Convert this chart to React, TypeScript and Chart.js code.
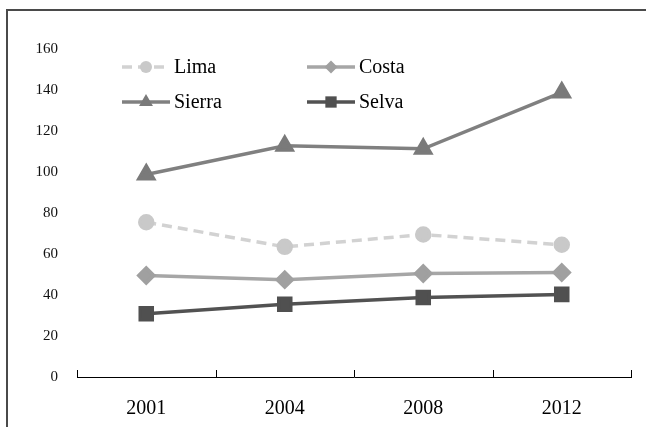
import React, { useEffect, useRef } from "react";
import { Chart, registerables } from "chart.js";

Chart.register(...registerables);

const categories = ["2001", "2004", "2008", "2012"];
const limaValues = [75.5, 63.5, 69.5, 64.5];
const costaValues = [49.5, 47.5, 50.5, 51];
const sierraValues = [98.8, 112.8, 111.3, 138.8];
const selvaValues = [30.8, 35.5, 38.8, 40.3];
const yTicks = [0, 20, 40, 60, 80, 100, 120, 140, 160];

const FONT = "'Liberation Serif', 'Times New Roman', serif";

function drawMarker(ctx: CanvasRenderingContext2D, style: string, cx: number, cy: number, r: number) {
  ctx.beginPath();
  if (style === "circle") {
    ctx.arc(cx, cy, r, 0, Math.PI * 2);
  } else if (style === "rectRot") {
    ctx.moveTo(cx, cy - r);
    ctx.lineTo(cx + r, cy);
    ctx.lineTo(cx, cy + r);
    ctx.lineTo(cx - r, cy);
    ctx.closePath();
  } else if (style === "triangle") {
    const w = (r * Math.sqrt(3)) / 2;
    ctx.moveTo(cx, cy - r);
    ctx.lineTo(cx + w, cy + r / 2);
    ctx.lineTo(cx - w, cy + r / 2);
    ctx.closePath();
  } else {
    const s = r * Math.SQRT1_2;
    ctx.rect(cx - s, cy - s, s * 2, s * 2);
  }
  ctx.fill();
}

const legendPlugin = {
  id: "gridLegend",
  afterDraw(chart: any) {
    const ctx = chart.ctx;
    const x = chart.scales.x;
    const y = chart.scales.y;
    ctx.save();
    ctx.strokeStyle = "#000";
    ctx.lineWidth = 1;
    const n = categories.length;
    for (let i = 0; i <= n; i++) {
      const px = Math.round(x.left + (i * (x.right - x.left)) / n) + 0.5;
      ctx.beginPath();
      ctx.moveTo(px, y.bottom);
      ctx.lineTo(px, y.bottom - 7);
      ctx.stroke();
    }
    ctx.restore();

    const positions = [
      [122, 67],
      [307, 67],
      [122, 102],
      [307, 102],
    ];
    const legendRadius = [6, 6.5, 8, 8];
    chart.data.datasets.forEach((ds: any, i: number) => {
      const [sx, sy] = positions[i];
      ctx.save();
      ctx.strokeStyle = ds.borderColor;
      ctx.lineWidth = ds.borderWidth;
      ctx.setLineDash(ds.borderDash || []);
      ctx.beginPath();
      ctx.moveTo(sx, sy);
      ctx.lineTo(sx + 48, sy);
      ctx.stroke();
      ctx.setLineDash([]);
      ctx.fillStyle = ds.pointBackgroundColor;
      drawMarker(ctx, ds.pointStyle, sx + 24, sy, legendRadius[i]);
      ctx.fillStyle = "#000";
      ctx.font = `20px ${FONT}`;
      ctx.textBaseline = "middle";
      ctx.textAlign = "left";
      ctx.fillText(ds.label, sx + 52, sy + 1);
      ctx.restore();
    });
  },
};

export default function App() {
  const ref = useRef<HTMLCanvasElement>(null);
  useEffect(() => {
    let chart: any = null;
    let cancelled = false;
    const make = () => {
      if (cancelled || !ref.current) return;
      chart = new Chart(ref.current, {
        type: "line",
        data: {
          labels: categories,
          datasets: [
            {
              label: "Lima",
              data: limaValues,
              borderColor: "#d2d2d2",
              borderWidth: 3.5,
              borderDash: [10, 6],
              pointStyle: "circle",
              pointRadius: 6.5,
              pointBackgroundColor: "#c9c9c9",
              pointBorderColor: "#c9c9c9",
            },
            {
              label: "Costa",
              data: costaValues,
              borderColor: "#a6a6a6",
              borderWidth: 3.5,
              pointStyle: "rectRot",
              pointRadius: 7.5,
              pointBackgroundColor: "#a0a0a0",
              pointBorderColor: "#a0a0a0",
            },
            {
              label: "Sierra",
              data: sierraValues,
              borderColor: "#808080",
              borderWidth: 3.5,
              pointStyle: "triangle",
              pointRadius: 8.5,
              pointBackgroundColor: "#7a7a7a",
              pointBorderColor: "#7a7a7a",
            },
            {
              label: "Selva",
              data: selvaValues,
              borderColor: "#525252",
              borderWidth: 3.5,
              pointStyle: "rect",
              pointRadius: 8.5,
              pointBackgroundColor: "#505050",
              pointBorderColor: "#505050",
            },
          ],
        },
        plugins: [legendPlugin],
        options: {
          animation: false,
          responsive: false,
          maintainAspectRatio: false,
          layout: { padding: { top: 49, right: 15, bottom: 0, left: 0 } },
          plugins: { legend: { display: false }, tooltip: { enabled: false } },
          scales: {
            x: {
              type: "category",
              offset: true,
              grid: { display: false },
              border: { display: true, color: "#000", width: 1 },
              ticks: {
                color: "#000",
                font: { family: FONT, size: 20 },
                padding: 12,
              },
              afterFit: (scale: any) => {
                scale.height = 50;
              },
            },
            y: {
              min: 0,
              max: 160,
              afterBuildTicks: (scale: any) => {
                scale.ticks = yTicks.map((v) => ({ value: v }));
              },
              afterFit: (scale: any) => {
                scale.width = 77;
              },
              grid: { display: false },
              border: { display: false },
              ticks: {
                color: "#111",
                font: { family: FONT, size: 15 },
                padding: 11,
              },
            },
          },
        },
      });
    };
    const fonts: any = (document as any).fonts;
    if (fonts && fonts.load) {
      Promise.all([fonts.load(`20px ${FONT}`), fonts.load(`15px ${FONT}`)])
        .catch(() => null)
        .then(make);
    } else {
      make();
    }
    return () => {
      cancelled = true;
      if (chart) chart.destroy();
    };
  }, []);
  return (
    <div style={{ position: "fixed", left: 0, top: 0, width: 646, height: 427, background: "#fff" }}>
      <div
        style={{
          position: "absolute",
          left: 6,
          top: 9,
          width: 640,
          height: 418,
          borderTop: "2px solid #4a4a4a",
          borderLeft: "2px solid #4a4a4a",
          boxSizing: "border-box",
        }}
      />
      <canvas ref={ref} width={646} height={427} style={{ position: "absolute", left: 0, top: 0 }} />
    </div>
  );
}
